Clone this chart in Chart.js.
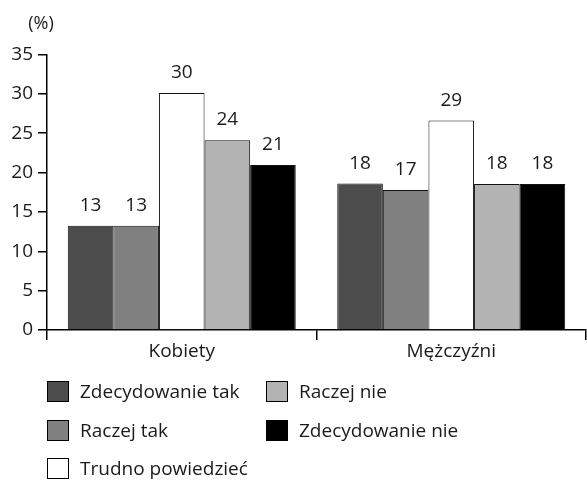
<!DOCTYPE html>
<html><head><meta charset="utf-8">
<script src="https://cdn.jsdelivr.net/npm/chart.js@4/dist/chart.umd.min.js"></script>
<style>
html,body{margin:0;padding:0;background:#fff;}
#wrap{position:relative;width:587px;height:480px;overflow:hidden;font-family:'Open Sans',sans-serif;color:#1a1a1a;}
canvas{position:absolute;left:0;top:0;}
.lg{position:absolute;display:flex;align-items:center;font-size:19px;white-space:nowrap;line-height:21px;}
.lg .box{width:20px;height:19px;border:1px solid #000;margin-right:11px;flex:none;}
</style></head><body>
<div id="wrap"><canvas id="c" width="587" height="480"></canvas></div>
<script>
// ---- data ----
const categories = ['Kobiety', 'Mężczyźni'];
const seriesNames = ['Zdecydowanie tak', 'Raczej tak', 'Trudno powiedzieć', 'Raczej nie', 'Zdecydowanie nie'];
// bar heights as drawn in the reference
const zdecydowanieTak = [13.25, 18.6];
const raczejTak = [13.25, 17.8];
const trudnoPowiedziec = [30.1, 26.6];
const raczejNie = [24.1, 18.55];
const zdecydowanieNie = [20.95, 18.55];
// value labels printed above the bars
const labelsZdecydowanieTak = [13, 18];
const labelsRaczejTak = [13, 17];
const labelsTrudnoPowiedziec = [30, 29];
const labelsRaczejNie = [24, 18];
const labelsZdecydowanieNie = [21, 18];
const yTicks = [0, 5, 10, 15, 20, 25, 30, 35];
const unitLabel = '(%)';

// ---- styling ----
const fills = ['#4d4d4d', '#808080', '#ffffff', '#b3b3b3', '#000000'];
const seriesValues = [zdecydowanieTak, raczejTak, trudnoPowiedziec, raczejNie, zdecydowanieNie];
const seriesLabels = [labelsZdecydowanieTak, labelsRaczejTak, labelsTrudnoPowiedziec, labelsRaczejNie, labelsZdecydowanieNie];

const FONT = "'Open Sans', 'DejaVu Sans', sans-serif";
Chart.defaults.font.family = FONT;
Chart.defaults.font.size = 19;
Chart.defaults.color = '#1a1a1a';

const datasets = seriesNames.map((name, i) => ({
  label: name,
  data: seriesValues[i],
  shownLabels: seriesLabels[i],
  backgroundColor: fills[i],
  borderColor: '#111',
  borderWidth: 1,
  categoryPercentage: 0.846,
  barPercentage: 1.0
}));

const valueLabels = {
  id: 'valueLabels',
  afterDatasetsDraw(chart) {
    const ctx = chart.ctx;
    ctx.save();
    ctx.font = '19px ' + FONT;
    ctx.fillStyle = '#1a1a1a';
    ctx.textAlign = 'center';
    ctx.textBaseline = 'alphabetic';
    chart.data.datasets.forEach((ds, i) => {
      chart.getDatasetMeta(i).data.forEach((bar, j) => {
        ctx.fillText(String(ds.shownLabels[j]), bar.x, bar.y - 15);
      });
    });
    ctx.restore();
  }
};
const unitPlugin = {
  id: 'unitPlugin',
  afterDraw(chart) {
    const ctx = chart.ctx;
    ctx.save();
    ctx.font = '18px ' + FONT;
    ctx.fillStyle = '#1a1a1a';
    ctx.textAlign = 'center';
    ctx.textBaseline = 'alphabetic';
    ctx.fillText(unitLabel, chart.chartArea.left - 6, 29);
    ctx.restore();
  }
};

new Chart(document.getElementById('c'), {
  type: 'bar',
  data: { labels: categories, datasets },
  options: {
    responsive: false,
    devicePixelRatio: 1,
    animation: false,
    layout: { padding: { top: 54.5, right: 1, bottom: 110, left: 0 } },
    plugins: { legend: { display: false }, tooltip: { enabled: false } },
    scales: {
      x: {
        grid: { display: true, offset: true, drawOnChartArea: false, drawTicks: true, tickLength: 10, color: '#000', lineWidth: 1.5 },
        border: { display: true, color: '#000', width: 1.5 },
        ticks: { padding: 0, font: { size: 19 }, color: '#1a1a1a' },
        afterFit(s) { s.height = 40; }
      },
      y: {
        min: 0, max: 35,
        afterBuildTicks(s) { s.ticks = yTicks.map(v => ({ value: v })); },
        grid: { display: true, drawOnChartArea: false, drawTicks: true, tickLength: 9, color: '#000', lineWidth: 1.5 },
        border: { display: true, color: '#000', width: 1.5 },
        ticks: { padding: 5, font: { size: 19 }, color: '#1a1a1a' },
        afterFit(s) { s.width = 47; }
      }
    }
  },
  plugins: [valueLabels, unitPlugin]
});

// ---- HTML legend (column-major, 3 rows) ----
const wrap = document.getElementById('wrap');
seriesNames.forEach((name, i) => {
  const col = Math.floor(i / 3), row = i % 3;
  const d = document.createElement('div');
  d.className = 'lg';
  d.style.left = (47 + col * 219) + 'px';
  d.style.top = (381 + row * 38.5) + 'px';
  const b = document.createElement('span');
  b.className = 'box';
  b.style.background = fills[i];
  const t = document.createElement('span');
  t.textContent = name;
  d.appendChild(b); d.appendChild(t);
  wrap.appendChild(d);
});
</script>
</body></html>
